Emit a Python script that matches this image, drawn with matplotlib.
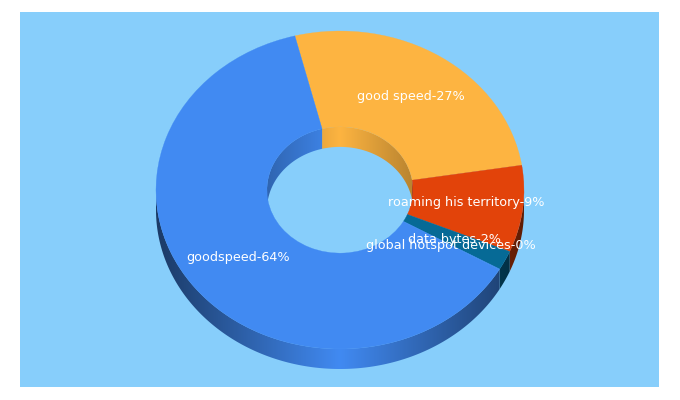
import numpy as np
import matplotlib
matplotlib.use("Agg")
import matplotlib.pyplot as plt
from matplotlib.patches import Wedge, Rectangle, Polygon
from matplotlib.transforms import Affine2D

labels = ["good speed", "roaming his territory", "data bytes", "global hotspot devices", "goodspeed"]
shown_pct = [27, 9, 2, 0, 64]
values = [27, 9, 2, 0.08, 64]
colors = ["#FDB441", "#E2430A", "#066A96", "#418AF2", "#418AF2"]
label_xy = [(410.5, 96.5), (466.5, 202.5), (454, 239.5), (451, 245.5), (238, 257)]

BG = "#87CEFB"
CX, CY, RX, RY, DEPTH, HOLE = 340, 190, 184, 159, 20, 0.397
START = -14.2

fig = plt.figure(figsize=(6.8, 4.0), dpi=100, facecolor="white")
ax = fig.add_axes([0, 0, 1, 1])
ax.axis("off")
ax.add_patch(Rectangle((20, 12), 639, 375, facecolor=BG, edgecolor="none", zorder=0))

def pt(a, ratio, dy=0):
    t = np.radians(a)
    return (CX + RX * ratio * np.sin(t), CY - RY * ratio * np.cos(t) + dy)

edges = START + np.concatenate([[0], np.cumsum(values)]) * 360.0 / np.sum(values)

def wall(a1, a2, ratio, color, k, z):
    grid = np.linspace(a1, a2, max(2, int(a2 - a1) * 2 + 2))
    poly = [pt(g, ratio) for g in grid] + [pt(g, ratio, DEPTH) for g in grid[::-1]]
    xs = np.arange(0, 681)
    f = 1 - k * np.clip(np.abs(xs - CX) / (RX * ratio), 0, 1)
    rgb = np.array(matplotlib.colors.to_rgb(color))
    img = (f[None, :, None] * rgb[None, None, :]).clip(0, 1)
    im = ax.imshow(img, extent=(0, 680, 400, 0), aspect="auto", interpolation="bilinear", zorder=z)
    patch = Polygon(poly, closed=True, transform=ax.transData, facecolor="none", edgecolor="none")
    ax.add_patch(patch)
    im.set_clip_path(patch)

for a1, a2, c in zip(edges[:-1], edges[1:], colors):
    lo, hi = max(a1, 90), min(a2, 270)
    if hi > lo:
        wall(lo, hi, 1.0, c, 0.58, 2)
    for s in (0, 360):
        lo, hi = max(a1, -90 + s), min(a2, 90 + s)
        if hi > lo:
            wall(lo, hi, HOLE, c, 0.27, 3)

ax.set_xlim(0, 680)
ax.set_ylim(400, 0)

base = Affine2D().scale(RX, -RY).translate(CX, CY) + ax.transData
for a1, a2, c in zip(edges[:-1], edges[1:], colors):
    ax.add_patch(Wedge((0, 0), 1.0, 90 - a2, 90 - a1, width=1 - HOLE,
                       facecolor=c, edgecolor=c, lw=0.2, transform=base, zorder=4))

for lab, p, (x, y) in zip(labels, shown_pct, label_xy):
    ax.text(x, y, f"{lab}-{p}%", color="white", fontsize=9.2, family="DejaVu Sans",
            ha="center", va="center", zorder=6)

fig.savefig("out.png", dpi=100, facecolor="white")
